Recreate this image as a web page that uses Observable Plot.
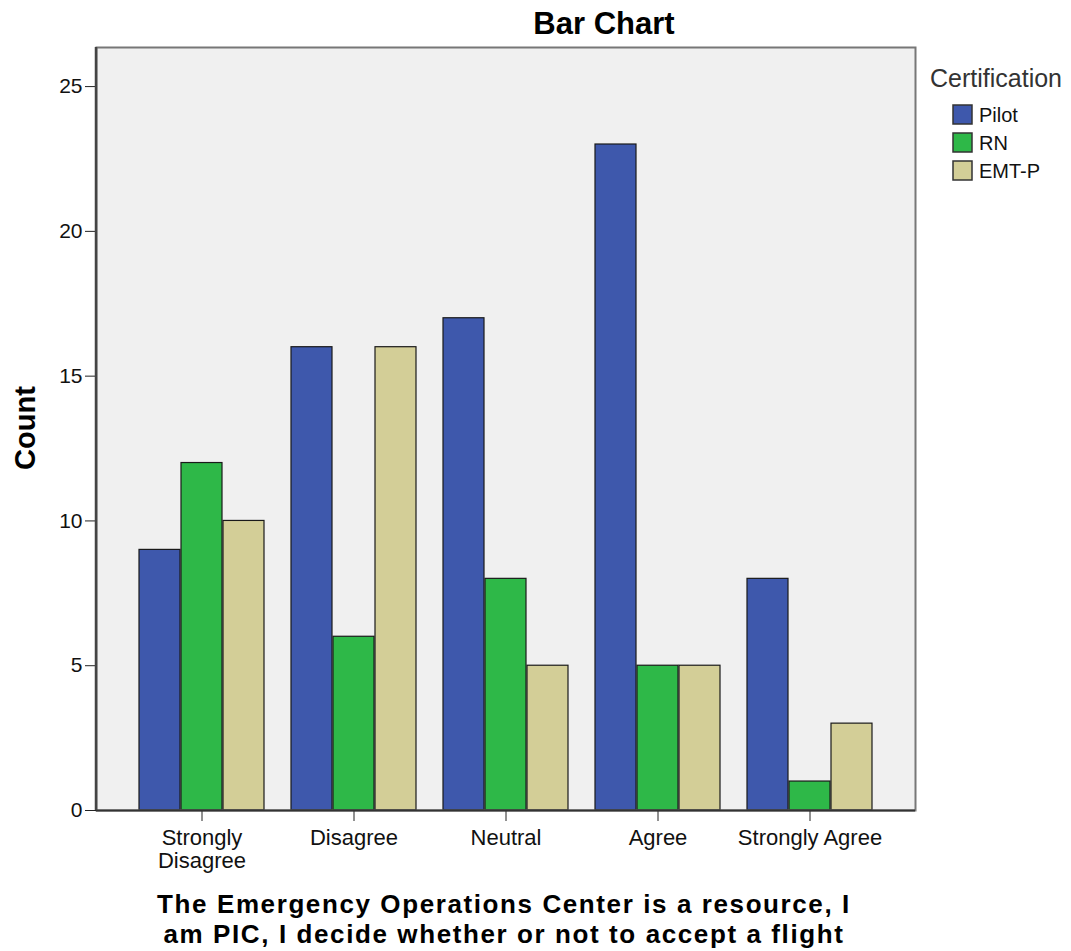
<!DOCTYPE html>
<html>
<head>
<meta charset="utf-8">
<script src="https://cdn.jsdelivr.net/npm/d3@7"></script>
<script src="https://cdn.jsdelivr.net/npm/@observablehq/plot@0.6"></script>
<style>
  body { margin: 0; background: #fff; }
  #wrap { position: relative; width: 1071px; height: 951px; }
</style>
</head>
<body>
<div id="wrap"></div>
<script>
const responses = ["Strongly Disagree", "Disagree", "Neutral", "Agree", "Strongly Agree"];
const tickLabels = ["Strongly\nDisagree", "Disagree", "Neutral", "Agree", "Strongly Agree"];
const certifications = ["Pilot", "RN", "EMT-P"];
const pilot = [9, 16, 17, 23, 8];
const rn = [12, 6, 8, 5, 1];
const emtp = [10, 16, 5, 5, 3];
const colors = ["#3e58ac", "#2eb848", "#d3ce97"];
const yTicks = [0, 5, 10, 15, 20, 25];
const titleText = "Bar Chart";
const yLabel = "Count";
const legendTitle = "Certification";
const captionLines = ["The Emergency Operations Center is a resource, I", "am PIC, I decide whether or not to accept a flight"];

const series = [pilot, rn, emtp];
const data = [];
certifications.forEach((c, i) => responses.forEach((r, j) => data.push({cert: c, response: r, count: series[i][j]})));

const FONT = "'Liberation Sans', Arial, sans-serif";
const W = 1071, H = 951;
const mL = 96, mR = 156, mT = 47, mB = 141;
const bw = 42; // width of one bar within a group

const barMarks = certifications.map((c, i) =>
  Plot.barY(data.filter(d => d.cert === c), {
    x: "response", y: "count",
    fill: colors[i], stroke: "#1a1a1a", strokeWidth: 1.2,
    insetLeft: bw * i, insetRight: bw * (2 - i)
  })
);

const chart = Plot.plot({
  width: W, height: H,
  marginLeft: mL, marginRight: mR, marginTop: mT, marginBottom: mB,
  style: {fontFamily: FONT, background: "#fff", overflow: "visible"},
  x: {domain: responses, padding: 0.175, paddingOuter: 0.268, label: null},
  y: {domain: [0, 26.35], label: null},
  marks: [
    Plot.frame({fill: "#f0f0f0", stroke: "none"}),
    ...barMarks,
    Plot.frame({stroke: "#777", strokeWidth: 2}),
    Plot.axisY({ticks: yTicks, tickSize: 11, tickPadding: 3, fontSize: 21, stroke: "#222", fill: "#111"}),
    Plot.axisX({tickSize: 11, tickPadding: 7, fontSize: 22, tickFormat: d => tickLabels[responses.indexOf(d)], lineHeight: 1.05, stroke: "#222", fill: "#111"}),
    Plot.ruleY([0], {stroke: "#333", strokeWidth: 2})
  ]
});
document.getElementById("wrap").appendChild(chart);

const svg = d3.select(chart);
svg.append("line").attr("x1", mL).attr("x2", mL).attr("y1", mT).attr("y2", H - mB).attr("stroke", "#444").attr("stroke-width", 2.5);

// chart title
svg.append("text").attr("x", 604).attr("y", 34).attr("text-anchor", "middle")
  .attr("font-family", FONT).attr("font-weight", "bold").attr("font-size", 31).attr("fill", "#000")
  .text(titleText);

// y-axis title
svg.append("text")
  .attr("transform", `translate(35,428) rotate(-90)`)
  .attr("text-anchor", "middle")
  .attr("font-weight", "bold").attr("font-size", 29).attr("fill", "#000")
  .attr("font-family", FONT)
  .text(yLabel);

// caption (x-axis title)
captionLines.forEach((s, i) => {
  svg.append("text").attr("x", 504).attr("y", 913 + 30 * i).attr("text-anchor", "middle")
    .attr("font-family", FONT).attr("font-weight", "bold").attr("font-size", 26)
    .attr("letter-spacing", 1.6).attr("fill", "#000")
    .text(s);
});

// legend
svg.append("text").attr("x", 930).attr("y", 87).attr("text-anchor", "start")
  .attr("font-family", FONT).attr("font-size", 25).attr("fill", "#333").text(legendTitle);
certifications.forEach((c, i) => {
  const y0 = 105 + 28 * i;
  svg.append("rect").attr("x", 953).attr("y", y0).attr("width", 19).attr("height", 19)
    .attr("fill", colors[i]).attr("stroke", "#333").attr("stroke-width", 1.5);
  svg.append("text").attr("x", 979).attr("y", y0 + 17).attr("text-anchor", "start")
    .attr("font-family", FONT).attr("font-size", 20).attr("fill", "#111").text(c);
});
</script>
</body>
</html>
